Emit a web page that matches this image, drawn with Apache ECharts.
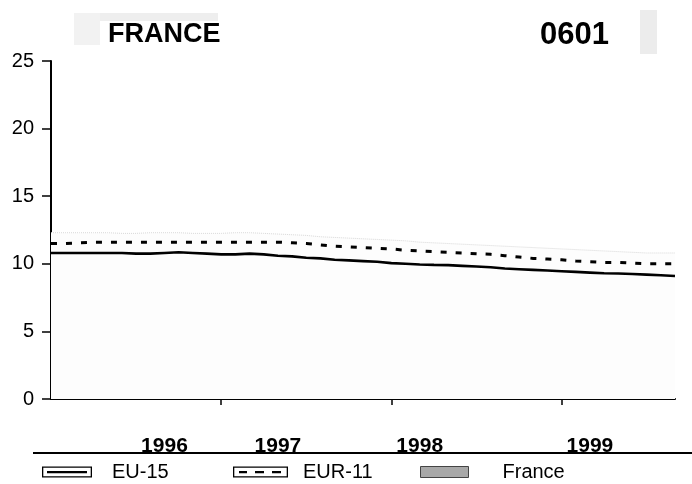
<!DOCTYPE html>
<html>
<head>
<meta charset="utf-8">
<script src="https://cdn.jsdelivr.net/npm/echarts@6/dist/echarts.min.js"></script>
<style>
  html, body { margin: 0; padding: 0; background: #fff; }
  #chart { width: 692px; height: 484px; }
</style>
</head>
<body>
<div id="chart"></div>
<script>
// Monthly categories, Jan 1996 .. Sep 1999
const categories = [
  '1996-01','1996-02','1996-03','1996-04','1996-05','1996-06','1996-07','1996-08','1996-09','1996-10','1996-11','1996-12',
  '1997-01','1997-02','1997-03','1997-04','1997-05','1997-06','1997-07','1997-08','1997-09','1997-10','1997-11','1997-12',
  '1998-01','1998-02','1998-03','1998-04','1998-05','1998-06','1998-07','1998-08','1998-09','1998-10','1998-11','1998-12',
  '1999-01','1999-02','1999-03','1999-04','1999-05','1999-06','1999-07','1999-08','1999-09'
];
// Indices where the year labels are printed, and where the year ticks sit
const yearLabelIndex = [8, 16, 26, 38];
const yearTickIndex = [12, 24, 36];

const eu15 = [
  10.8, 10.8, 10.8, 10.8, 10.8, 10.8, 10.75, 10.75, 10.8, 10.85, 10.8, 10.75,
  10.7, 10.7, 10.75, 10.7, 10.6, 10.55, 10.45, 10.4, 10.3, 10.25, 10.2, 10.15,
  10.05, 10.0, 9.95, 9.92, 9.9, 9.85, 9.8, 9.75, 9.65, 9.6, 9.55, 9.5,
  9.45, 9.4, 9.35, 9.3, 9.28, 9.25, 9.2, 9.15, 9.1
];
const eur11 = [
  11.5, 11.5, 11.55, 11.6, 11.6, 11.6, 11.6, 11.6, 11.6, 11.6, 11.6, 11.6,
  11.6, 11.6, 11.6, 11.6, 11.6, 11.55, 11.5, 11.4, 11.3, 11.25, 11.2, 11.15,
  11.1, 11.0, 10.95, 10.9, 10.85, 10.8, 10.75, 10.7, 10.6, 10.5, 10.4, 10.35,
  10.3, 10.2, 10.15, 10.1, 10.1, 10.05, 10.0, 10.0, 10.0
];
const france = [
  12.3, 12.3, 12.3, 12.3, 12.3, 12.25, 12.25, 12.3, 12.3, 12.3, 12.25, 12.25,
  12.25, 12.3, 12.3, 12.25, 12.2, 12.15, 12.1, 12.0, 11.95, 11.9, 11.85, 11.8,
  11.75, 11.7, 11.6, 11.55, 11.5, 11.45, 11.4, 11.35, 11.3, 11.25, 11.2, 11.15,
  11.1, 11.05, 11.0, 10.95, 10.9, 10.85, 10.8, 10.8, 10.8
];
const yTicks = { min: 0, max: 25, interval: 5 };

const FONT = '"Liberation Sans", Arial, sans-serif';
const legendText = { fontFamily: FONT, fontSize: 20, color: '#000' };

const chart = echarts.init(document.getElementById('chart'), null, { renderer: 'canvas' });

chart.setOption({
  animation: false,
  backgroundColor: '#fff',
  textStyle: { fontFamily: FONT },
  title: [
    { text: 'FRANCE', left: 103, top: 16, textStyle: { fontFamily: FONT, fontSize: 27, fontWeight: 'bold', color: '#000' } },
    { text: '0601', left: 535, top: 15, textStyle: { fontFamily: FONT, fontSize: 31, fontWeight: 'bold', color: '#000' } }
  ],
  graphic: [
    { type: 'rect', z: -10, shape: { x: 74, y: 13, width: 144, height: 8 }, style: { fill: '#eeeeee' } },
    { type: 'rect', z: -10, shape: { x: 74, y: 13, width: 26, height: 32 }, style: { fill: '#f2f2f2' } },
    { type: 'rect', z: -10, shape: { x: 640, y: 10, width: 17, height: 44 }, style: { fill: '#ececec' } },
    { type: 'line', shape: { x1: 33, y1: 453, x2: 692, y2: 453 }, style: { stroke: '#000', lineWidth: 2 } }
  ],
  grid: { left: 51, right: 17, top: 61, bottom: 85, containLabel: false },
  legend: [
    {
      left: 42, top: 462, padding: 0, itemWidth: 50, itemHeight: 11, selectedMode: false,
      textStyle: Object.assign({ padding: [0, 0, 0, 15] }, legendText),
      data: [{ name: 'EU-15', icon: 'path://M0 0H50V11H0Z M1.3 1.3V9.7H48.7V1.3Z M5 4.4H45V6.8H5Z', itemStyle: { color: '#000', borderWidth: 0 } }]
    },
    {
      left: 233, top: 462, padding: 0, itemWidth: 55, itemHeight: 11, selectedMode: false,
      textStyle: Object.assign({ padding: [0, 0, 0, 10] }, legendText),
      data: [{ name: 'EUR-11', icon: 'path://M0 0H55V11H0Z M1.3 1.3V9.7H53.7V1.3Z M6 4.6H14V6.8H6Z M22 4.6H31V6.8H22Z M39 4.6H48V6.8H39Z', itemStyle: { color: '#000', borderWidth: 0 } }]
    },
    {
      left: 420, top: 462, padding: 0, itemWidth: 48, itemHeight: 11, selectedMode: false,
      textStyle: Object.assign({ padding: [0, 0, 0, 29] }, legendText),
      data: [{ name: 'France', icon: 'rect', itemStyle: { color: '#a8a8a8', borderColor: '#444', borderWidth: 1 } }]
    }
  ],
  xAxis: {
    type: 'category',
    data: categories,
    boundaryGap: false,
    axisLine: { show: true, lineStyle: { color: '#000', width: 2 } },
    axisTick: {
      show: true,
      inside: false,
      length: 6,
      interval: (i) => yearTickIndex.includes(i),
      lineStyle: { color: '#000', width: 1.5 }
    },
    axisLabel: {
      interval: (i) => yearLabelIndex.includes(i),
      formatter: (v) => v.slice(0, 4),
      margin: 37,
      fontFamily: FONT,
      fontSize: 21,
      fontWeight: 'bold',
      color: '#000'
    },
    splitLine: { show: false }
  },
  yAxis: {
    type: 'value',
    min: yTicks.min,
    max: yTicks.max,
    interval: yTicks.interval,
    axisLine: { show: true, lineStyle: { color: '#000', width: 2 } },
    axisTick: { show: true, length: 9, lineStyle: { color: '#000', width: 1.5 } },
    axisLabel: { margin: 17, fontFamily: FONT, fontSize: 20, color: '#000' },
    splitLine: { show: false }
  },
  series: [
    {
      name: 'EU-15',
      type: 'line',
      data: eu15,
      symbol: 'none',
      z: 3,
      lineStyle: { color: '#000', width: 2.6 },
      itemStyle: { color: '#000' }
    },
    {
      name: 'EUR-11',
      type: 'line',
      data: eur11,
      symbol: 'none',
      z: 3,
      lineStyle: { color: '#000', width: 3, type: [6, 9] },
      itemStyle: { color: '#000' }
    },
    {
      name: 'France',
      type: 'line',
      data: france,
      symbol: 'none',
      z: 1,
      lineStyle: { color: '#d8d8d8', width: 1, type: 'dotted' },
      areaStyle: { color: '#fdfdfd', opacity: 1 },
      itemStyle: { color: '#a8a8a8' }
    }
  ]
});
</script>
</body>
</html>
